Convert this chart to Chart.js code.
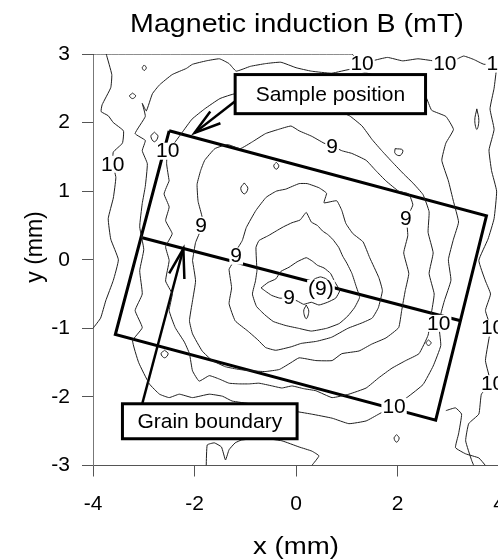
<!DOCTYPE html>
<html>
<head>
<meta charset="utf-8">
<script src="https://cdn.jsdelivr.net/npm/chart.js@4.4.1/dist/chart.umd.min.js"></script>
<style>
html, body { margin: 0; padding: 0; background: #fff; overflow: hidden; width: 498px; height: 560px; }
#wrap { position: absolute; left: 0; top: 0; width: 520px; height: 560px; }
</style>
</head>
<body>
<div id="wrap"><canvas id="c" width="520" height="560"></canvas></div>
<script>
// contour lines of B (mT), points are [x mm, y mm]
var c86 = [[0.3,-0.36],[0.36,-0.28],[0.48,-0.25],[0.6,-0.28],[0.68,-0.37],[0.63,-0.48],[0.5,-0.52],[0.37,-0.48],[0.3,-0.36]];
var c88 = [[-0.69,-0.41],[-0.55,-0.33],[-0.4,-0.28],[-0.3,-0.17],[-0.14,-0.11],[0.02,-0.03],[0.2,0.03],[0.32,-0.02],[0.42,-0.08],[0.55,-0.12],[0.68,-0.2],[0.76,-0.32],[0.86,-0.45],[0.78,-0.56],[0.62,-0.62],[0.45,-0.66],[0.3,-0.62],[0.15,-0.65],[0.02,-0.6],[-0.15,-0.56],[-0.32,-0.56],[-0.48,-0.52],[-0.6,-0.46],[-0.69,-0.41]];
var c90 = [[-0.77,-0.16],[-0.79,0.18],[-0.73,0.28],[-0.55,0.35],[-0.39,0.42],[-0.25,0.48],[-0.08,0.54],[0.08,0.58],[0.2,0.69],[0.3,0.55],[0.42,0.5],[0.52,0.42],[0.62,0.37],[0.72,0.3],[0.84,0.18],[0.92,0.05],[1.0,-0.05],[1.1,-0.2],[1.18,-0.38],[1.25,-0.55],[1.15,-0.7],[1.02,-0.82],[0.85,-0.93],[0.6,-1.0],[0.3,-1.04],[0.05,-1.0],[-0.2,-0.96],[-0.45,-0.9],[-0.62,-0.8],[-0.78,-0.68],[-0.86,-0.5],[-0.8,-0.31],[-0.77,-0.16]];
var c92 = [[-0.2,1.03],[-0.39,1.0],[-0.59,0.91],[-0.79,0.72],[-0.98,0.47],[-1.06,0.28],[-1.18,0.13],[-1.26,-0.06],[-1.32,-0.14],[-1.27,-0.41],[-1.32,-0.64],[-1.2,-0.89],[-0.95,-1.04],[-0.75,-1.17],[-0.6,-1.28],[-0.4,-1.32],[-0.1,-1.27],[0.1,-1.22],[0.4,-1.19],[0.7,-1.13],[1.02,-1.0],[1.3,-0.92],[1.5,-0.85],[1.62,-0.7],[1.7,-0.45],[1.63,-0.26],[1.45,0.03],[1.32,0.26],[1.12,0.38],[0.98,0.53],[0.9,0.72],[0.8,0.86],[0.55,0.83],[0.6,0.97],[0.45,1.05],[0.22,1.11],[0.06,1.11],[-0.2,1.03]];
var c94 = [[-2.04,-0.01],[-1.98,-0.31],[-2.04,-0.6],[-2.1,-0.89],[-2.04,-1.08],[-1.85,-1.33],[-1.65,-1.47],[-1.39,-1.56],[-1.12,-1.6],[-0.86,-1.62],[-0.61,-1.63],[-0.33,-1.6],[-0.1,-1.5],[0.06,-1.43],[0.39,-1.47],[0.71,-1.47],[0.9,-1.37],[1.24,-1.33],[1.49,-1.23],[1.77,-1.14],[2.02,-0.99],[2.08,-0.74],[2.15,-0.45],[2.22,-0.2],[2.12,0.1],[2.2,0.35],[2.18,0.6],[2.3,0.8],[2.22,0.96],[2.02,1.0],[1.77,1.15],[1.57,1.3],[1.38,1.45],[1.1,1.55],[0.9,1.59],[0.71,1.66],[0.55,1.7],[0.31,1.8],[0.06,1.88],[-0.1,1.95],[-0.35,1.9],[-0.6,1.84],[-0.86,1.72],[-1.1,1.62],[-1.35,1.68],[-1.6,1.62],[-1.8,1.45],[-1.88,1.3],[-1.95,1.1],[-1.93,0.85],[-1.85,0.62],[-1.87,0.45],[-1.98,0.25],[-2.04,-0.01]];
var c96 = [[-2.5,1.15],[-2.6,0.96],[-2.5,0.77],[-2.57,0.57],[-2.44,0.38],[-2.57,0.19],[-2.5,-0.01],[-2.57,-0.31],[-2.44,-0.5],[-2.5,-0.74],[-2.38,-0.99],[-2.2,-1.2],[-2.1,-1.37],[-2.04,-1.62],[-1.91,-1.77],[-1.71,-1.69],[-1.51,-1.74],[-1.32,-1.8],[-1.12,-1.81],[-0.92,-1.81],[-0.73,-1.8],[-0.47,-1.84],[-0.28,-1.87],[-0.08,-1.84],[0.15,-1.88],[0.39,-1.91],[0.71,-2.01],[1.04,-1.96],[1.38,-1.87],[1.63,-1.72],[1.89,-1.58],[2.16,-1.47],[2.42,-1.37],[2.6,-1.1],[2.66,-0.8],[2.72,-0.5],[2.62,-0.2],[2.7,0.1],[2.6,0.4],[2.62,0.7],[2.5,0.95],[2.3,1.12],[2.12,1.25],[1.9,1.42],[1.7,1.58],[1.5,1.75],[1.3,1.95],[1.05,2.1],[0.7,2.2],[0.3,2.28],[0.0,2.3],[-0.3,2.38],[-0.6,2.45],[-0.9,2.35],[-1.2,2.42],[-1.5,2.35],[-1.8,2.2],[-2.05,2.05],[-2.25,1.85],[-2.4,1.7],[-2.53,1.59],[-2.55,1.4],[-2.5,1.15]];
var c98 = [[-3.03,2.28],[-2.97,2.09],[-3.17,1.84],[-2.97,1.74],[-3.03,1.59],[-2.93,1.4],[-2.97,1.07],[-3.03,0.82],[-3.08,0.48],[-3.0,0.15],[-3.08,-0.16],[-3.03,-0.5],[-3.17,-0.74],[-3.03,-0.99],[-3.22,-1.18],[-3.1,-1.5],[-2.89,-1.81],[-2.69,-1.96],[-2.5,-2.01],[-2.3,-1.96],[-2.04,-2.01],[-1.71,-1.96],[-1.45,-1.99],[-1.26,-2.06],[-0.9,-2.1],[-0.5,-2.15],[-0.1,-2.2],[0.3,-2.25],[0.71,-2.31],[1.04,-2.39],[1.38,-2.35],[1.63,-2.25],[1.93,-2.13],[2.2,-2.0],[2.5,-1.82],[2.7,-1.55],[2.85,-1.25],[2.81,-0.92],[2.92,-0.6],[3.05,-0.3],[3.0,0.0],[3.1,0.3],[3.2,0.55],[3.1,0.85],[3.0,1.15],[2.87,1.45],[2.95,1.7],[3.1,1.9],[2.95,2.09],[2.67,2.18],[2.55,2.38],[2.2,2.5],[1.8,2.62],[1.5,2.7],[1.1,2.78],[0.7,2.72],[0.3,2.75],[0.0,2.8],[-0.3,2.88],[-0.6,2.86],[-0.9,2.82],[-1.18,2.75],[-1.32,2.86],[-1.51,2.93],[-1.77,2.9],[-2.04,2.85],[-2.16,2.79],[-2.44,2.7],[-2.69,2.55],[-2.83,2.42],[-2.95,2.17],[-3.03,2.28]];
var c100 = [[-3.74,3.0],[-3.63,2.7],[-3.65,2.51],[-3.82,2.26],[-3.84,2.16],[-3.7,2.1],[-3.6,2.0],[-3.4,1.88],[-3.42,1.7],[-3.6,1.57],[-3.61,1.4],[-3.55,1.2],[-3.6,0.9],[-3.7,0.6],[-3.65,0.3],[-3.5,0.0],[-3.6,-0.3],[-3.75,-0.6],[-3.85,-0.85],[-4.0,-1.0]];
var c100top = [[-4.0,3.0],[1.1,3.0],[1.2,2.9],[1.3,2.86],[1.5,2.9],[1.8,2.95],[2.1,2.9],[2.4,2.93],[2.7,2.9],[2.93,2.86],[3.1,2.9],[3.3,2.97],[3.5,2.92],[3.7,2.85],[3.98,2.86]];
var c100right = [[3.95,2.8],[3.9,2.5],[3.82,2.2],[3.9,1.9],[3.8,1.6],[3.85,1.3],[3.95,1.0],[3.9,0.6],[3.78,0.3],[3.6,-0.01],[3.73,-0.31],[3.83,-0.5],[3.73,-0.74],[3.83,-0.99],[3.73,-1.47],[3.83,-1.8],[3.65,-1.96],[3.6,-2.25],[3.4,-2.39],[3.34,-2.64],[3.46,-2.93],[3.5,-3.0]];
var c100low = [[2.95,-2.2],[3.14,-2.16],[3.26,-2.25],[3.2,-2.54],[3.14,-2.74],[3.34,-2.83],[3.6,-2.89],[3.73,-3.0]];
var c100bottom = [[-1.77,-3.0],[-1.75,-2.7],[-1.61,-2.67],[-1.47,-2.73],[-1.39,-2.92],[-1.32,-2.77],[-1.2,-2.67],[-1.08,-2.63],[-0.7,-2.6],[-0.28,-2.64],[0.06,-2.73],[0.31,-2.79],[0.45,-2.86],[0.31,-3.0]];
var loops = [
  [[-2.99,2.84],[-2.95,2.8],[-2.99,2.76],[-3.03,2.8],[-2.99,2.84]],
  [[-3.22,2.43],[-3.16,2.39],[-3.22,2.35],[-3.28,2.39],[-3.22,2.43]],
  [[-2.79,1.86],[-2.72,1.8],[-2.79,1.72],[-2.86,1.8],[-2.79,1.86]],
  [[-1.02,1.12],[-0.95,1.04],[-1.02,0.96],[-1.09,1.04],[-1.02,1.12]],
  [[-0.39,1.42],[-0.34,1.37],[-0.39,1.32],[-0.44,1.37],[-0.39,1.42]],
  [[0.2,-0.66],[0.25,-0.75],[0.2,-0.86],[0.15,-0.75],[0.2,-0.66]],
  [[2.61,-1.17],[2.66,-1.21],[2.61,-1.25],[2.56,-1.21],[2.61,-1.17]],
  [[1.98,-2.55],[2.03,-2.6],[1.98,-2.66],[1.93,-2.6],[1.98,-2.55]],
  [[-2.59,-1.32],[-2.52,-1.37],[-2.59,-1.43],[-2.66,-1.37],[-2.59,-1.32]],
  [[3.56,2.2],[3.6,2.03],[3.56,1.9],[3.52,2.03],[3.56,2.2]],
  [[1.95,1.62],[2.1,1.6],[2.05,1.52],[1.95,1.55],[1.95,1.62]]
];

// contour labels
var labelText = ['10', '10', '10', '10', '10', '9', '9', '9', '9', '9', '(9)', '10', '10', '10', '10'];
var labelX = [-3.61, -2.53, 1.3, 2.93, 3.98, 0.71, 2.16, -1.87, -1.18, -0.14, 0.49, 2.81, 1.93, 3.87, 3.87];
var labelY = [1.40, 1.59, 2.86, 2.86, 2.86, 1.66, 0.6, 0.51, 0.06, -0.55, -0.41, -0.92, -2.13, -0.99, -1.8];

// sample outline, grain boundary, arrows
var sampleRect = [[-2.5,1.88],[3.75,0.64],[2.75,-2.34],[-3.56,-1.09],[-2.5,1.88]];
var grainLine = [[-3.03,0.32],[3.24,-0.89]];
var arrowSample = [[-1.2,2.31],[-2.0,1.85]];
var arrowSampleHead = [[-1.69,2.16],[-2.0,1.85],[-1.49,1.99]];
var arrowGrain = [[-3.03,-2.1],[-2.22,0.16]];
var arrowGrainHead = [[-2.5,-0.2],[-2.22,0.16],[-2.2,-0.28]];

// annotation boxes: [x1, y1, x2, y2] in mm
var boxText = ['Sample position', 'Grain boundary'];
var boxRect = [[-1.2, 2.70, 2.55, 2.13], [-3.42, -2.10, 0.02, -2.61]];

function toXY(pts) {
  return pts.map(function (p) { return { x: p[0], y: p[1] }; });
}
function lineSet(pts, w, col, tens) {
  return {
    data: toXY(pts), showLine: true, borderColor: col, borderWidth: w,
    pointRadius: 0, tension: tens, fill: false
  };
}

var contourColor = '#1e1e1e';
var datasets = [];
[c86, c88, c90, c92, c94, c96, c98, c100, c100top, c100right, c100low, c100bottom].forEach(function (c) {
  datasets.push(lineSet(c, 1, contourColor, 0.12));
});
loops.forEach(function (c) { datasets.push(lineSet(c, 1, contourColor, 0.4)); });
datasets.push(lineSet(sampleRect, 3, '#000', 0));
datasets.push(lineSet(grainLine, 3, '#000', 0));
datasets.push(lineSet(arrowSample, 2.5, '#000', 0));
datasets.push(lineSet(arrowSampleHead, 2.5, '#000', 0));
datasets.push(lineSet(arrowGrain, 2.5, '#000', 0));
datasets.push(lineSet(arrowGrainHead, 2.5, '#000', 0));

var FONT = '"Liberation Sans", Arial, sans-serif';

var textPlugin = {
  id: 'mapText',
  afterDatasetsDraw: function (chart) {
    var ctx = chart.ctx, xs = chart.scales.x, ys = chart.scales.y;
    ctx.save();
    ctx.font = '21px ' + FONT;
    ctx.textAlign = 'center';
    ctx.textBaseline = 'middle';
    for (var i = 0; i < labelText.length; i++) {
      var px = xs.getPixelForValue(labelX[i]), py = ys.getPixelForValue(labelY[i]);
      var w = ctx.measureText(labelText[i]).width;
      ctx.fillStyle = '#fff';
      ctx.fillRect(px - w / 2 - 1, py - 8, w + 2, 17);
      ctx.fillStyle = '#000';
      ctx.fillText(labelText[i], px, py + 1);
    }
    ctx.font = '21px ' + FONT;
    for (var j = 0; j < boxText.length; j++) {
      var b = boxRect[j];
      var x1 = xs.getPixelForValue(b[0]), y1 = ys.getPixelForValue(b[1]);
      var x2 = xs.getPixelForValue(b[2]), y2 = ys.getPixelForValue(b[3]);
      ctx.fillStyle = '#fff';
      ctx.fillRect(x1, y1, x2 - x1, y2 - y1);
      ctx.lineWidth = 3;
      ctx.strokeStyle = '#000';
      ctx.strokeRect(x1, y1, x2 - x1, y2 - y1);
      ctx.fillStyle = '#000';
      ctx.fillText(boxText[j], (x1 + x2) / 2, (y1 + y2) / 2 + 1);
    }
    ctx.restore();
  },
  afterDraw: function (chart) {
    var ctx = chart.ctx;
    ctx.save();
    ctx.fillStyle = '#000';
    ctx.textAlign = 'center';
    ctx.textBaseline = 'middle';
    ctx.font = '26px ' + FONT;
    ctx.translate(297, 25);
    ctx.scale(1.1, 1);
    ctx.fillText('Magnetic induction B (mT)', 0, 0);
    ctx.restore();
    ctx.save();
    ctx.fillStyle = '#000';
    ctx.textAlign = 'center';
    ctx.textBaseline = 'middle';
    ctx.font = '23px ' + FONT;
    ctx.translate(296, 548);
    ctx.scale(1.2, 1);
    ctx.fillText('x (mm)', 0, 0);
    ctx.restore();
    ctx.save();
    ctx.fillStyle = '#000';
    ctx.textAlign = 'center';
    ctx.textBaseline = 'middle';
    ctx.font = '23px ' + FONT;
    ctx.translate(36, 247);
    ctx.rotate(-Math.PI / 2);
    ctx.fillText('y (mm)', 0, 0);
    ctx.restore();
  }
};

new Chart(document.getElementById('c'), {
  type: 'scatter',
  data: { datasets: datasets },
  options: {
    responsive: false,
    animation: false,
    layout: { padding: { top: 54, right: 19.4, left: 0, bottom: 0 } },
    plugins: { legend: { display: false }, tooltip: { enabled: false }, title: { display: false } },
    scales: {
      x: {
        type: 'linear', min: -4, max: 4,
        ticks: { stepSize: 2, color: '#000', font: { family: FONT, size: 21 }, padding: 15 },
        grid: { drawOnChartArea: false, tickLength: 11, color: '#555' },
        border: { color: '#555', width: 1 },
        afterFit: function (s) { s.height = 94.5; }
      },
      y: {
        type: 'linear', min: -3, max: 3,
        ticks: { stepSize: 1, color: '#000', font: { family: FONT, size: 21 }, padding: 12 },
        grid: { drawOnChartArea: false, tickLength: 11, color: '#555' },
        border: { color: '#777', width: 1 },
        afterFit: function (s) { s.width = 93; }
      }
    }
  },
  plugins: [textPlugin]
});
</script>
</body>
</html>
